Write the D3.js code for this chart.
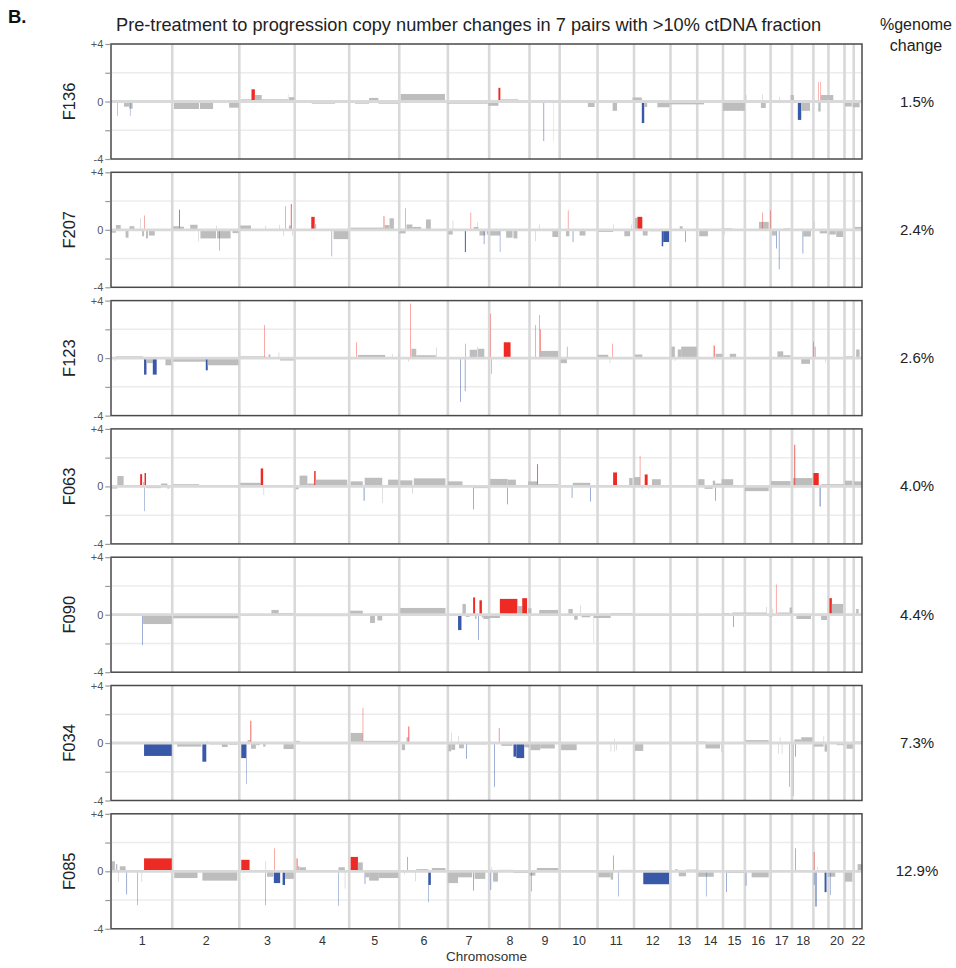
<!DOCTYPE html>
<html><head><meta charset="utf-8">
<script src="https://cdn.jsdelivr.net/npm/d3@7/dist/d3.min.js"></script>
<style>
html,body{margin:0;padding:0;background:#fff;}
text{font-family:"Liberation Sans",Arial,Helvetica,sans-serif;}
</style></head>
<body><svg id="chart" width="956" height="968"></svg>
<script>
// ---------------- DATA ----------------
const chromosomes = ["1","2","3","4","5","6","7","8","9","10","11","12","13","14","15","16","17","18","19","20","21","22"];
// relative chromosome sizes (plot units)
const chromLengths = [126,138,114,112,103,100,85,83,62,78,75,75,55,53,45,53,44,44,31,33,19,17];
const hiddenChromLabels = ["19","21"];
const sampleIds = ["F136","F207","F123","F063","F090","F034","F085"];
const genomeChange = ["1.5%","2.4%","2.6%","4.0%","4.4%","7.3%","12.9%"];
const yTicks = [-4,-2,0,2,4];
const yTickLabels = ["-4","","0","","+4"];
const titleText = "Pre-treatment to progression copy number changes in 7 pairs with >10% ctDNA fraction";

// segments: [start, end, copy-number change, significant(1) / not (0)] ; positions genome-wide in plot units
const segF136 = [
 [13,13.7,-1.0,1],[26.7,37.6,-0.36,0],[37.6,44.5,-0.5,0],[39,39.7,-1.0,1],
 [129.6,181,-0.52,0],[183,210,-0.52,0],[243,263,-0.43,0],
 [267,289,0.15,0],[289,296,0.85,1],[296,310,0.45,0],[310,364,0.15,0],[364,364.7,0.5,0],[366,377,0.3,0],
 [413,461,-0.15,0],[502,531,-0.15,0],[531,550,0.25,0],[550,591,-0.15,0],[596,687,0.52,0],[692,775,-0.15,0],
 [776,797,-0.3,0],[797,801,0.95,1],[801,838,0.15,0],
 [890,891,-2.75,1],[910,910.6,-2.8,0],[981,995,-0.38,0],[1032,1041,-0.65,0],
 [1073,1092,0.28,0],[1092,1097,-1.5,1],[1097,1103,-0.38,0],[1124,1149,-0.4,0],[1149,1220,-0.2,0],
 [1259,1304,-0.65,0],[1306,1307,0.45,0],[1337,1347,-0.45,0],[1340,1341,0.5,0],
 [1359,1380,0.1,0],[1375,1376,0.33,0],[1398,1405,0.45,0],[1413,1420,-1.28,1],[1420,1438,-0.65,0],
 [1455,1460,-0.7,0],[1455,1455.7,1.35,1],[1460,1460.7,1.35,1],[1460,1486,0.45,0],
 [1510,1524,-0.35,0],[1526,1540,-0.4,0]
];
const segF207 = [
 [0,10,-0.2,0],[10,20,0.33,0],[30,36,-0.55,0],[38,48,0.25,0],[60,61,0.8,0],[64,68,-0.45,0],
 [69,69.8,1.0,1],[72,76,-0.6,0],[78,90,-0.4,0],
 [128,140,0.25,0],[140,141.5,1.4,1],[141.5,150,0.22,0],[163,178,0.35,0],[180,181,-0.8,0],[184,216,-0.6,0],
 [216,217,0.3,0],[218,246,-0.6,0],[223,223.8,-1.45,1],[250,262,-0.23,0],
 [266,288,0.3,0],[318,319,0.3,0],[346,347,0.35,0],[355,356,-0.45,0],[358,358.8,1.65,1],[366,370,0.3,0],
 [370,371.5,1.8,1],[373,374,-0.4,0],
 [412,419,0.9,1],[419,422,0.4,0],[454,454.8,-1.85,1],[458,488,-0.65,0],
 [493,560,0.15,0],[561,562.2,0.95,1],[563,573,0.33,0],[573,582,0.8,0],
 [593,606,-0.25,0],[606,606.8,1.5,1],[608,620,0.37,0],[620,638,0.2,0],[648,658,0.72,0],
 [694,703,-0.33,0],[703,704,0.65,0],[728,730,-1.55,1],[740,740.8,1.2,1],[746,756,0.2,0],[753,754,0.55,0],
 [758,770,-0.4,0],[767,768,-1.0,1],[773,776,-0.33,0],
 [780,800,-0.4,0],[800,800.8,-1.55,1],[813,826,-0.55,0],[828,836,-0.6,0],
 [873,874,-0.8,0],[881,882,0.37,0],[908,920,-0.5,0],
 [936,943,-0.45,0],[940,940.8,1.35,1],[950,951,-0.85,1],[964,976,-0.4,0],
 [1003,1033,-0.15,0],[1033,1034,0.37,0],[1056,1068,-0.45,0],[1070,1071,0.37,0],
 [1078,1083,0.83,0],[1083,1093,0.9,1],[1094,1104,-0.4,0],[1108,1133,-0.1,0],[1133,1136,-1.15,1],[1136,1148,-0.85,1],
 [1170,1176,0.25,0],[1181,1182,-0.85,1],[1210,1228,-0.45,0],[1258,1278,0.1,0],[1261,1262,-0.33,0],
 [1333,1353,0.55,0],[1340,1340.8,1.2,1],[1356,1356.8,1.35,1],
 [1360,1368,-0.4,0],[1369,1370,-1.3,1],[1374,1375,-2.75,1],[1383,1398,0.1,0],
 [1423,1424,-1.65,1],[1424,1440,-0.47,0],[1446,1447,0.6,0],[1458,1473,-0.25,0],
 [1478,1491,-0.33,0],[1492,1506,-0.5,0],[1530,1545,0.2,0]
];
const segF123 = [
 [8,9,-0.2,0],[10,66,0.12,0],[68,73,-1.15,1],[73,86,-0.35,0],[86,94,-1.15,1],[112,124,-0.5,0],
 [128,195,-0.25,0],[195,199,-0.85,1],[199,262,-0.5,0],
 [266,318,0.12,0],[316,316.8,2.3,1],[324,328,0.25,0],[345,346,0.4,0],[348,376,-0.17,0],
 [505,505.8,1.1,1],[508,564,0.22,0],[578,579,0.3,0],[592,593,0.3,0],
 [612,613,-0.25,0],[616,616.8,3.8,1],[618,628,0.65,0],[628,668,0.2,0],[669,670,0.75,0],
 [718,719,-3.05,1],[728,729,-2.3,1],[729,729.8,1.0,1],[738,753,0.58,0],[753,754,0.8,0],[755,768,0.65,0],
 [781,781.8,3.1,1],[783,783.7,-1.1,1],[808,822,1.1,1],
 [873,873.8,2.3,1],[881,881.8,3.0,1],[883,884,2.0,1],[883,920,0.5,0],
 [925,938,-0.35,0],[938,938.8,0.8,1],
 [1001,1023,0.23,0],[1026,1027,-0.35,0],[1032,1032.8,1.0,1],[1078,1093,0.25,0],
 [1153,1160,0.8,0],[1160,1161,-0.2,0],[1166,1173,0.6,0],[1173,1205,0.8,0],
 [1240,1240.8,0.9,1],[1241,1242,0.85,1],[1244,1258,0.3,0],[1273,1286,0.3,0],
 [1371,1383,0.47,0],[1383,1398,0.2,0],[1420,1438,-0.4,0],[1445,1445.8,1.15,1],[1448,1449,0.8,1],
 [1470,1471,-0.3,0],[1510,1526,0.12,0],[1533,1540,0.6,0]
];
const segF063 = [
 [0,13,-0.15,0],[13,26,0.72,0],[60,64,0.85,1],[66,68,0.3,0],[68,68.8,-1.72,1],[69,72,0.93,1],
 [73,103,-0.12,0],[103,116,0.2,0],[116,120,-0.15,0],
 [128,181,0.15,0],[266,308,0.25,0],[308,313,1.25,1],[314,315,-0.6,0],
 [380,386,-0.2,0],[388,404,0.75,0],[404,418,0.2,0],[418,421,1.07,1],[421,486,0.47,0],
 [493,518,0.35,0],[520,521.2,-1.0,1],[522,558,0.6,0],[558,559,-1.15,0],[570,591,0.47,0],
 [595,620,0.42,0],[620,621,-0.5,0],[623,688,0.56,0],
 [693,723,0.35,0],[745,746,-1.6,1],[745,775,-0.12,0],
 [780,816,0.52,0],[815,816,-1.25,1],[816,833,0.47,0],[858,877,0.35,0],[877,878.5,1.55,1],[877,920,0.15,0],
 [948,949,-0.8,1],[950,986,0.25,0],[986,987,-1.05,1],
 [1033,1041,0.97,1],[1066,1073,0.58,0],
 [1076,1088,0.65,0],[1088,1088.8,2.1,1],[1093,1094,-0.2,0],[1098,1104,0.83,1],[1106,1107,-0.2,0],[1113,1131,0.5,0],
 [1208,1221,0.5,0],[1221,1238,-0.17,0],[1238,1243,0.4,0],[1243,1244,-1.0,1],[1243,1256,0.2,0],[1256,1280,0.5,0],
 [1304,1353,-0.33,0],[1358,1398,0.37,0],
 [1403,1443,0.58,0],[1406,1407.5,2.9,1],[1445,1456,0.93,1],[1458,1459.5,-1.4,1],
 [1461,1508,0.15,0],[1510,1525,0.4,0],[1528,1545,0.35,0]
];
const segF090 = [
 [64,65,-2.1,1],[66,125,-0.65,0],[128,262,-0.25,0],
 [330,345,0.33,0],[345,376,0.12,0],[380,488,-0.1,0],
 [492,518,0.28,0],[533,543,-0.58,0],[548,558,-0.4,0],[595,688,0.47,0],
 [714,721,-1.07,1],[723,730,0.75,0],[730,738,-0.15,0],[745,749,1.2,1],[749,752,-0.3,0],
 [756,757,-1.75,1],[758,763,1.0,1],[763,766,-0.2,0],[766,778,-0.3,0],
 [778,800,-0.23,0],[800,836,1.1,1],[836,846,0.6,0],[846,856,1.15,1],[858,865,0.45,0],
 [881,920,0.33,0],
 [941,950,0.4,0],[953,960,-0.35,0],[965,966,0.65,0],[968,986,-0.18,0],[993,993.8,-1.95,0],[993,1028,-0.23,0],
 [1028,1073,0.12,0],
 [1258,1273,0.12,0],[1280,1281,-0.85,1],[1278,1303,0.15,0],
 [1304,1348,0.15,0],[1348,1349,0.55,0],[1353,1361,-0.12,0],[1361,1362,0.4,0],
 [1368,1368.8,2.1,1],[1371,1396,0.15,0],[1396,1401,0.5,0],
 [1410,1440,-0.3,0],[1461,1473,-0.37,0],[1478,1483,1.15,1],[1483,1506,0.75,0],[1533,1538,0.4,0]
];
const segF034 = [
 [68,125,-0.9,1],
 [136,186,-0.25,0],[188,196,-1.3,1],[198,199,0.15,0],[203,228,-0.1,0],[228,240,-0.28,0],[243,260,-0.12,0],
 [268,278,-1.05,1],[278,278.8,-2.85,1],[281,288,0.2,0],[287,288.5,1.55,1],[288,298,-0.4,0],[298,306,-0.15,0],
 [313,318,-0.25,0],[355,376,-0.42,0],
 [380,388,0.15,0],
 [493,518,0.7,0],[518,518.8,2.45,1],[518,593,0.15,0],
 [598,605,-0.5,0],[608,612,0.4,0],[612,613.5,1.15,1],
 [694,700,-0.58,0],[700,701,0.7,0],[700,708,-0.48,0],[714,715,0.5,0],[716,726,-0.37,0],[731,732,-1.1,1],[733,773,-0.1,0],
 [788,789,-3.05,1],[798,799,1.05,1],[803,826,-0.2,0],[828,834,-0.95,1],[834,850,-1.05,1],[850,861,-0.3,0],
 [863,883,-0.5,0],[883,913,-0.38,0],[926,958,-0.5,0],
 [1028,1029,-0.6,0],[1035,1036,0.3,0],[1035,1036,-0.6,0],[1040,1041,-0.5,0],[1078,1095,-0.55,0],
 [1208,1223,0.1,0],[1223,1253,-0.38,0],[1256,1257,-0.65,0],
 [1306,1353,0.2,0],
 [1373,1374,-0.75,0],[1376,1377,0.4,0],[1380,1381,-0.75,0],[1395,1395.8,-3.05,1],[1403,1403.6,-3.7,1],[1408,1409,-0.95,1],
 [1406,1420,0.25,0],[1420,1443,0.4,0],
 [1446,1466,-0.25,0],[1466,1467,0.5,0],[1468,1473,-0.6,0],
 [1493,1508,-0.15,0],[1513,1526,-0.4,0],[1530,1545,0.1,0]
];
const segF085 = [
 [2,8,0.7,0],[10,13,0.5,0],[15,16,-0.75,0],[18,30,0.35,0],[32,33,-1.6,1],[54,54.8,-2.35,1],[63,64,-0.75,0],[68,125,0.9,1],
 [130,178,-0.47,0],[188,260,-0.65,0],
 [268,285,0.8,1],[318,319,0.7,0],[318,318.8,-2.35,1],[321,334,-0.38,0],[336,336.8,1.6,1],[335,348,-0.82,1],
 [353,358,-0.95,1],[358,376,-0.53,0],
 [382,383.5,0.9,1],[383,388,0.35,0],[388,401,0.28,0],[468,468.8,-2.4,1],[468,481,0.28,0],[481,482,-1.2,0],
 [493,508,1.0,1],[508,518,0.62,0],[522,523,-0.88,1],[523,531,-0.42,0],[531,551,-0.65,0],[551,591,-0.47,0],
 [603,604,-0.22,0],[610,611,1.0,1],[626,627,-0.7,0],[628,653,0.15,0],[653,658,-0.95,1],[653,653.8,-2.15,1],[660,688,0.23,0],
 [693,714,-0.82,0],[714,743,-0.42,0],[745,746,-1.35,1],[748,770,-0.53,0],[781,782,-1.3,1],[783,784,0.28,0],
 [786,796,-0.72,0],[796,828,0.1,0],[828,858,-0.12,0],[861,873,-0.3,0],[865,865.8,-1.4,1],
 [876,920,0.23,0],
 [1003,1028,-0.42,0],[1028,1033,-0.58,0],[1033,1034,1.1,1],[1043,1043.8,-1.75,1],[1048,1071,0.1,0],
 [1095,1148,-0.9,1],
 [1161,1166,0.15,0],[1168,1183,-0.35,0],[1183,1206,0.12,0],
 [1208,1240,-0.38,0],[1224,1224.8,-1.75,1],
 [1266,1267,-1.45,1],[1268,1303,-0.12,0],[1306,1307,-1.0,1],[1318,1353,-0.42,0],
 [1408,1409,1.6,1],[1446,1447,1.35,1],[1446,1447,-0.95,1],[1449,1450,-2.45,1],[1451,1452,-2.45,1],[1453,1454,0.3,0],
 [1468,1472,-1.45,1],[1474,1490,-0.38,0],[1480,1480.8,-1.65,1],
 [1510,1525,-0.72,0],[1536,1545,0.5,0]
];
const segmentsBySample = [segF136, segF207, segF123, segF063, segF090, segF034, segF085];

// ---------------- LAYOUT / STYLE ----------------
const W = 956, H = 968;
const left = 111, right = 862;
const panelTop0 = 44, panelStep = 128.3, panelH = 115;
const colRed = "#ee2a24", colBlue = "#3a58a8", colGray = "#bdbdbd";
const colSep = "#d9d9d9";

const svg = d3.select("#chart");
svg.append("rect").attr("width", W).attr("height", H).attr("fill", "#fff");

// cumulative chromosome starts
const chromStarts = [];
let acc = 0;
chromLengths.forEach(l => { chromStarts.push(acc); acc += l; });
const genomeLen = acc;

const x = d3.scaleLinear().domain([0, genomeLen]).range([left, right]);
const y = d3.scaleLinear().domain([-4, 4]).range([panelH, 0]);

// headers
svg.append("text").attr("x", 8).attr("y", 23).attr("font-size", 18.5).attr("font-weight", "bold")
  .attr("fill", "#111").text("B.");
svg.append("text").attr("x", 116).attr("y", 31).attr("font-size", 18.2).attr("fill", "#222").text(titleText);
svg.append("text").attr("x", 916).attr("y", 30).attr("font-size", 16).attr("fill", "#222")
  .attr("text-anchor", "middle").text("%genome");
svg.append("text").attr("x", 916).attr("y", 51).attr("font-size", 16).attr("fill", "#222")
  .attr("text-anchor", "middle").text("change");

sampleIds.forEach((id, i) => {
  const top = panelTop0 + i * panelStep;
  const g = svg.append("g").attr("transform", `translate(0,${top})`);

  // horizontal grid at +-2
  g.selectAll("line.grid").data([-2, 2]).enter().append("line")
    .attr("x1", left).attr("x2", right).attr("y1", d => y(d)).attr("y2", d => y(d))
    .attr("stroke", "#ececec").attr("stroke-width", 1.5);

  // chromosome separators
  g.selectAll("line.sep").data(chromStarts.slice(1)).enter().append("line")
    .attr("x1", d => x(d)).attr("x2", d => x(d)).attr("y1", 0).attr("y2", panelH)
    .attr("stroke", colSep).attr("stroke-width", 2.6);

  // segments
  g.selectAll("rect.seg").data(segmentsBySample[i]).enter().append("rect")
    .attr("x", d => x(d[0]))
    .attr("width", d => Math.max(0.1, x(d[1]) - x(d[0])))
    .attr("y", d => Math.min(y(d[2]), y(0)))
    .attr("height", d => Math.abs(y(d[2]) - y(0)))
    .attr("fill", d => d[3] ? (d[2] > 0 ? colRed : colBlue) : colGray);

  // zero line
  g.append("line").attr("x1", left).attr("x2", right).attr("y1", y(0)).attr("y2", y(0))
    .attr("stroke", colSep).attr("stroke-width", 2.8);

  // frame
  g.append("rect").attr("x", left).attr("y", 0).attr("width", right - left).attr("height", panelH)
    .attr("fill", "none").attr("stroke", "#4a4a4a").attr("stroke-width", 1.5);

  // y axis
  const ax = g.append("g").attr("transform", `translate(${left - 0.75},0)`)
    .call(d3.axisLeft(y).tickValues(yTicks).tickSize(5).tickPadding(2)
      .tickFormat(d => yTickLabels[yTicks.indexOf(d)]));
  ax.select(".domain").remove();
  ax.selectAll(".tick line").attr("stroke", "#9a9a9a").attr("stroke-width", 1.2);
  ax.selectAll(".tick text").attr("font-size", 11).attr("fill", "#555")
    .attr("font-family", "Liberation Sans, Arial, sans-serif");

  // sample label
  g.append("text").attr("transform", `translate(75,${panelH / 2}) rotate(-90)`)
    .attr("text-anchor", "middle").attr("font-size", 16.5).attr("fill", "#222").text(id);

  // %genome change
  g.append("text").attr("x", 917).attr("y", panelH / 2 + 5).attr("text-anchor", "middle")
    .attr("font-size", 15).attr("fill", "#222").text(genomeChange[i]);
});

// x axis (chromosome labels)
const lastBottom = panelTop0 + (sampleIds.length - 1) * panelStep + panelH;
const mids = chromosomes.map((c, k) => chromStarts[k] + chromLengths[k] / 2);
const xAxis = d3.axisBottom(x).tickValues(mids).tickSize(0).tickPadding(7)
  .tickFormat((d, k) => hiddenChromLabels.includes(chromosomes[k]) ? "" : chromosomes[k]);
const xa = svg.append("g").attr("transform", `translate(0,${lastBottom})`).call(xAxis);
xa.select(".domain").remove();
xa.selectAll(".tick text").attr("font-size", 12.5).attr("fill", "#333")
  .attr("font-family", "Liberation Sans, Arial, sans-serif");

svg.append("text").attr("x", (left + right) / 2).attr("y", 961).attr("text-anchor", "middle")
  .attr("font-size", 13.5).attr("fill", "#333").text("Chromosome");
</script></body></html>
